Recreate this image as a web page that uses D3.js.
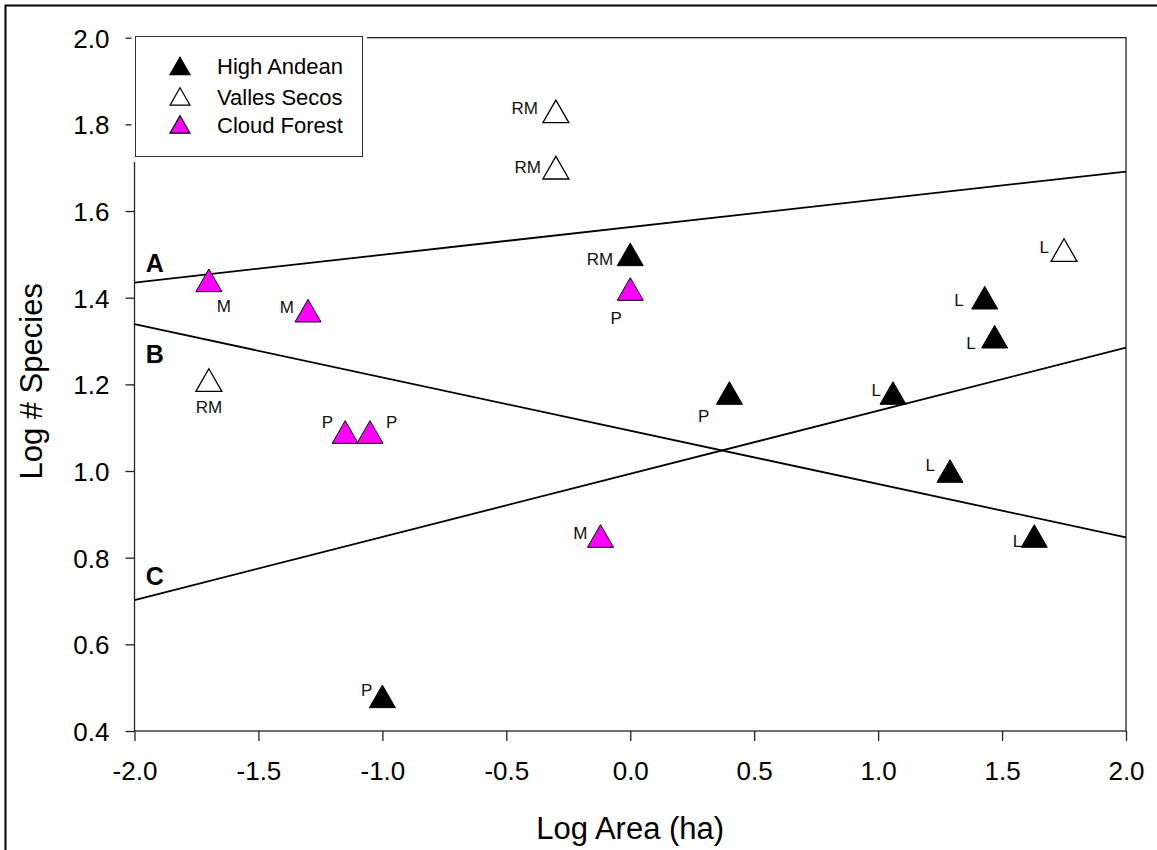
<!DOCTYPE html>
<html>
<head>
<meta charset="utf-8">
<script src="https://cdn.jsdelivr.net/npm/d3@7"></script>
<style>
  body { margin: 0; background: white; }
  svg { display: block; font-family: "Liberation Sans", Arial, sans-serif; }
</style>
</head>
<body>
<div id="chart"></div>
<script>
// values
const xTicks = [-2.0, -1.5, -1.0, -0.5, 0.0, 0.5, 1.0, 1.5, 2.0];
const yTicks = [0.4, 0.6, 0.8, 1.0, 1.2, 1.4, 1.6, 1.8, 2.0];

const highAndeanX = [0.0, -1.0, 0.4, 1.43, 1.47, 1.06, 1.29, 1.63];
const highAndeanY = [1.5, 0.48, 1.18, 1.4, 1.31, 1.18, 1.0, 0.85];
const highAndeanLab = ["RM", "P", "P", "L", "L", "L", "L", "L"];

const vallesX = [-0.3, -0.3, 1.75, -1.7];
const vallesY = [1.83, 1.7, 1.51, 1.21];
const vallesLab = ["RM", "RM", "L", "RM"];

const cloudX = [-1.7, -1.3, -1.15, -1.05, 0.0, -0.12];
const cloudY = [1.44, 1.37, 1.09, 1.09, 1.42, 0.85];
const cloudLab = ["M", "M", "P", "P", "P", "M"];

const lineNames = ["A", "B", "C"];
const lineIntercept = [1.563, 1.093, 0.9935];
const lineSlope = [0.064, -0.123, 0.1456];
const lineLabelY = [1.459, 1.25, 0.737];

const legendNames = ["High Andean", "Valles Secos", "Cloud Forest"];

// label nudges (anchor, dx, dy in px from the symbol centre)
const highAndeanNudge = [
  ["end", -17, 11], ["end", -10, 0], ["end", -20, 29], ["end", -21, 8],
  ["end", -19, 12], ["end", -12, 3], ["end", -15, 0], ["end", -12, 11],
];
const vallesNudge = [["end", -18, 3], ["end", -15, 5], ["end", -15, 3], ["middle", 0, 33]];
const cloudNudge = [
  ["start", 8, 32], ["end", -14, 2], ["end", -12, -4], ["start", 16, -4],
  ["middle", -14, 35], ["end", -13, 3],
];

const width = 1157;
const height = 850;
const margin = { top: 37.7, right: 31, bottom: 119, left: 134.5 };

const svg = d3
  .select("#chart")
  .append("svg")
  .attr("width", width)
  .attr("height", height);

// outer frame of the figure
svg
  .append("rect")
  .attr("x", 5.5)
  .attr("y", 5.5)
  .attr("width", width + 20)
  .attr("height", height + 20)
  .attr("fill", "none")
  .attr("stroke", "#000")
  .attr("stroke-width", 2);

const xScale = d3
  .scaleLinear()
  .domain([-2, 2])
  .range([margin.left, width - margin.right]);
const yScale = d3
  .scaleLinear()
  .domain([0.4, 2.0])
  .range([height - margin.bottom, margin.top]);

// plot box
svg
  .append("rect")
  .attr("x", xScale(-2))
  .attr("y", yScale(2))
  .attr("width", xScale(2) - xScale(-2))
  .attr("height", yScale(0.4) - yScale(2))
  .attr("fill", "none")
  .attr("stroke", "#222")
  .attr("stroke-width", 1.3);

const xAxis = svg
  .append("g")
  .attr("transform", `translate(0, ${yScale(0.4)})`)
  .call(
    d3.axisBottom(xScale).tickValues(xTicks).tickFormat(d3.format(".1f")).tickSize(10).tickSizeOuter(0)
  );
xAxis.select(".domain").remove();
xAxis.selectAll("line").attr("stroke", "#222").attr("stroke-width", 1.3);
xAxis
  .selectAll("text")
  .attr("y", 49)
  .attr("dy", 0)
  .attr("fill", "#000")
  .style("font-size", "26px")
  .style("font-family", "Liberation Sans, Arial, sans-serif")
  .text((d) => d3.format(".1f")(d).replace("−", "-"));

const yAxis = svg
  .append("g")
  .attr("transform", `translate(${xScale(-2)}, 0)`)
  .call(
    d3.axisLeft(yScale).tickValues(yTicks).tickFormat(d3.format(".1f")).tickSize(9).tickSizeOuter(0)
  );
yAxis.select(".domain").remove();
yAxis.selectAll("line").attr("stroke", "#222").attr("stroke-width", 1.3);
yAxis
  .selectAll("text")
  .attr("x", -25)
  .attr("dy", "0.36em")
  .attr("fill", "#000")
  .style("font-size", "26px")
  .style("font-family", "Liberation Sans, Arial, sans-serif");

// axis titles
svg
  .append("text")
  .attr("x", (xScale(-2) + xScale(2)) / 2)
  .attr("y", 839)
  .attr("text-anchor", "middle")
  .style("font-size", "31px")
  .text("Log Area (ha)");

svg
  .append("text")
  .attr("transform", `translate(42, ${(yScale(0.4) + yScale(2)) / 2 - 3}) rotate(-90)`)
  .attr("text-anchor", "middle")
  .style("font-size", "31px")
  .text("Log # Species");

// regression lines
const lineGen = d3
  .line()
  .x((d) => xScale(d[0]))
  .y((d) => yScale(d[1]));

lineNames.forEach(function (name, i) {
  var pts = [-2, 2].map((x) => [x, lineIntercept[i] + lineSlope[i] * x]);
  svg
    .append("path")
    .attr("d", lineGen(pts))
    .attr("fill", "none")
    .attr("stroke", "#000")
    .attr("stroke-width", 1.8);
  svg
    .append("text")
    .attr("x", xScale(-1.955))
    .attr("y", yScale(lineLabelY[i]))
    .style("font-size", "25px")
    .style("font-weight", "bold")
    .text(name);
});

// triangle with its box centred on the point, size = width
const triangle = {
  draw(context, size) {
    var w = size / 2;
    var h = size * 0.87 / 2;
    context.moveTo(0, -h);
    context.lineTo(w, h);
    context.lineTo(-w, h);
    context.closePath();
  },
};

function drawSeries(xs, ys, labs, nudges, fill, strokeW) {
  var pts = xs.map((x, i) => ({ x: x, y: ys[i], lab: labs[i], n: nudges[i] }));
  svg
    .append("g")
    .selectAll("path")
    .data(pts)
    .enter()
    .append("path")
    .attr("transform", (d) => `translate(${xScale(d.x)}, ${yScale(d.y)})`)
    .attr("d", d3.symbol().type(triangle).size(26))
    .attr("fill", fill)
    .attr("stroke", "#000")
    .attr("stroke-width", strokeW);

  svg
    .append("g")
    .selectAll("text")
    .data(pts)
    .enter()
    .append("text")
    .attr("x", (d) => xScale(d.x) + d.n[1])
    .attr("y", (d) => yScale(d.y) + d.n[2])
    .attr("text-anchor", (d) => d.n[0])
    .style("font-size", "17px")
    .attr("fill", "#111")
    .text((d) => d.lab);
}

drawSeries(highAndeanX, highAndeanY, highAndeanLab, highAndeanNudge, "#000", 1);
drawSeries(vallesX, vallesY, vallesLab, vallesNudge, "#fff", 1.3);
drawSeries(cloudX, cloudY, cloudLab, cloudNudge, "#ff00ff", 1);

// legend, with a white pad that hides the axes behind it
const legend = svg.append("g");
legend
  .append("rect")
  .attr("x", 131.5)
  .attr("y", 32)
  .attr("width", 235.5)
  .attr("height", 130)
  .attr("fill", "#fff");
legend
  .append("rect")
  .attr("x", 135.5)
  .attr("y", 36.5)
  .attr("width", 227)
  .attr("height", 120)
  .attr("fill", "#fff")
  .attr("stroke", "#333")
  .attr("stroke-width", 1);

const legendFill = ["#000", "#fff", "#ff00ff"];
const legendRowY = [66, 96.5, 124.5];
legendNames.forEach(function (name, i) {
  legend
    .append("path")
    .attr("transform", `translate(180, ${legendRowY[i]})`)
    .attr("d", d3.symbol().type(triangle).size(20))
    .attr("fill", legendFill[i])
    .attr("stroke", "#000")
    .attr("stroke-width", 1.2);
  legend
    .append("text")
    .attr("x", 217)
    .attr("y", legendRowY[i] + 8)
    .style("font-size", "22px")
    .text(name);
});
</script>
</body>
</html>
